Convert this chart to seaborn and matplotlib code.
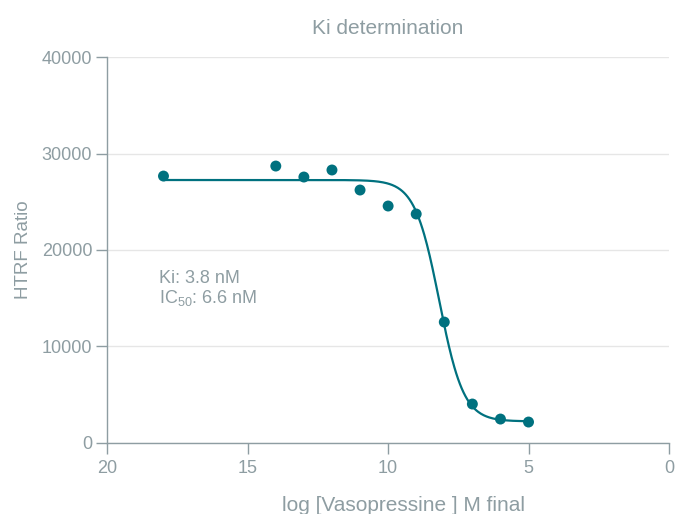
import numpy as np
import pandas as pd
import seaborn as sns
import matplotlib.pyplot as plt

# measured points, x is log concentration (shown as positive, axis reversed)
log_conc = [18, 14, 13, 12, 11, 10, 9, 8, 7, 6, 5]
htrf_ratio = [27670, 28710, 27570, 28300, 26220, 24560, 23730, 12510, 4000, 2440, 2130]

# 4PL fit parameters
fit_top = 27260
fit_bottom = 2200
fit_log_ic50 = 8.18   # IC50 = 6.6 nM
fit_hill = 1.0
fit_range = (18, 5)

teal = '#00717F'
grey = '#8E9DA2'
grid_grey = '#E6E6E6'

sns.set_theme(style='white')
plt.rcParams['font.family'] = ['Liberation Sans', 'DejaVu Sans']
plt.rcParams['mathtext.default'] = 'regular'

df = pd.DataFrame({'log_conc': log_conc, 'ratio': htrf_ratio})

x_fit = np.linspace(fit_range[0], fit_range[1], 400)
y_fit = fit_bottom + (fit_top - fit_bottom) / (1 + 10 ** (fit_hill * (fit_log_ic50 - x_fit)))
fit_df = pd.DataFrame({'log_conc': x_fit, 'ratio': y_fit})

fig = plt.figure(figsize=(6.75, 5.14), dpi=100)
ax = fig.add_axes([0.159, 0.139, 0.832, 0.7495])

sns.lineplot(data=fit_df, x='log_conc', y='ratio', color=teal, linewidth=1.6, ax=ax, sort=False)
sns.scatterplot(data=df, x='log_conc', y='ratio', color=teal, s=62, edgecolor='none', ax=ax, zorder=3)

ax.set_xlim(20, 0)
ax.set_ylim(0, 40000)
ax.set_xticks([20, 15, 10, 5, 0])
ax.set_yticks([0, 10000, 20000, 30000, 40000])
ax.yaxis.grid(True, color=grid_grey, linewidth=1)
ax.set_axisbelow(True)

for side in ['top', 'right']:
    ax.spines[side].set_visible(False)
for side in ['left', 'bottom']:
    ax.spines[side].set_color(grey)
    ax.spines[side].set_linewidth(1)

ax.tick_params(axis='both', colors=grey, labelcolor=grey, labelsize=13,
               length=7.8, width=1, direction='out', bottom=True, left=True)
ax.tick_params(axis='x', pad=5)
ax.tick_params(axis='y', pad=3)

ax.set_title('Ki determination', color=grey, fontsize=15, pad=17)
ax.set_xlabel('log [Vasopressine ] M final', color=grey, fontsize=15)
ax.xaxis.set_label_coords(0.527, -0.139)
ax.set_ylabel('HTRF Ratio', color=grey, fontsize=13.5, labelpad=7)

ax.text(18.15, 17000, 'Ki: 3.8 nM', color=grey, fontsize=13, va='center')
ax.text(18.15, 15000, 'IC$_{50}$: 6.6 nM', color=grey, fontsize=13, va='center')

fig.savefig('out.png', dpi=100)
